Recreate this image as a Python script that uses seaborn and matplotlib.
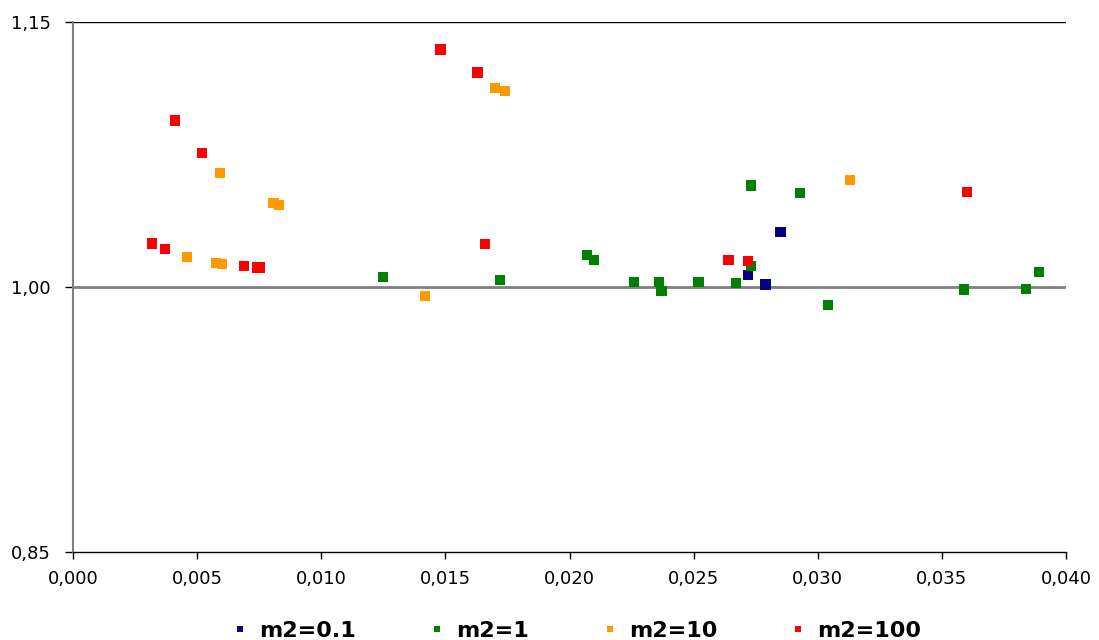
import matplotlib
matplotlib.use("Agg")
import matplotlib.pyplot as plt
import seaborn as sns
import pandas as pd
from matplotlib.ticker import FuncFormatter, FixedLocator
from matplotlib.lines import Line2D

# ---- data ----
series_names = ["m2=0.1", "m2=1", "m2=10", "m2=100"]
colors = ["#000080", "#008000", "#FF9900", "#FF0000"]

x_m01 = [0.0272, 0.02789, 0.0285]
y_m01 = [1.0068, 1.0015, 1.0313]

x_m1 = [0.01249, 0.0172, 0.0207, 0.0210, 0.0226, 0.0236, 0.0237, 0.0252,
        0.0267, 0.0273, 0.0273, 0.02928, 0.0304, 0.0359, 0.0384, 0.0389]
y_m1 = [1.0055, 1.0040, 1.0183, 1.0153, 1.0030, 1.0030, 0.9979, 1.0028,
        1.0024, 1.0117, 1.0574, 1.0532, 0.9900, 0.9985, 0.9987, 1.0083]

x_m10 = [0.00459, 0.00577, 0.0060, 0.00591, 0.00808, 0.0083, 0.01419,
         0.0170, 0.0174, 0.0313]
y_m10 = [1.0168, 1.0134, 1.0130, 1.0645, 1.0477, 1.0464, 0.9951,
         1.1125, 1.1108, 1.0604]

x_m100 = [0.003195, 0.003693, 0.004096, 0.005197, 0.00689, 0.0074, 0.00753,
          0.0148, 0.0163, 0.0166, 0.02641, 0.0272, 0.0360]
y_m100 = [1.0247, 1.0217, 1.0943, 1.0758, 1.0119, 1.0111, 1.0111,
          1.1345, 1.1215, 1.0242, 1.0153, 1.0149, 1.0536]

x_ticks = [0.000, 0.005, 0.010, 0.015, 0.020, 0.025, 0.030, 0.035, 0.040]
y_ticks = [0.85, 1.00, 1.15]

frames = []
for name, xs, ys in zip(series_names,
                        [x_m01, x_m1, x_m10, x_m100],
                        [y_m01, y_m1, y_m10, y_m100]):
    frames.append(pd.DataFrame({"x": xs, "y": ys, "series": name}))
df = pd.concat(frames, ignore_index=True)

sns.set_theme(style="white")
plt.rcParams["font.family"] = ["DejaVu Sans"]
plt.rcParams["text.color"] = "black"
plt.rcParams["xtick.color"] = "black"
plt.rcParams["ytick.color"] = "black"

fig = plt.figure(figsize=(10.99, 6.40), dpi=100)
ax = fig.add_axes([73 / 1099, 1 - 552 / 640, (1066 - 73) / 1099, (552 - 22) / 640])

sns.scatterplot(data=df, x="x", y="y", hue="series", hue_order=series_names,
                palette=colors, marker="s", s=55, linewidth=0, ax=ax,
                legend=False, zorder=3)

ax.set_xlim(0, 0.040)
ax.set_ylim(0.85, 1.15)
ax.xaxis.set_major_locator(FixedLocator(x_ticks))
ax.yaxis.set_major_locator(FixedLocator(y_ticks))
ax.xaxis.set_major_formatter(FuncFormatter(lambda v, p: f"{v:.3f}".replace(".", ",")))
ax.yaxis.set_major_formatter(FuncFormatter(lambda v, p: f"{v:.2f}".replace(".", ",")))
ax.set_xlabel("")
ax.set_ylabel("")

# gridlines
ax.axhline(1.15, color="black", lw=1.0, zorder=1)
ax.axhline(1.00, color="#808080", lw=2.0, zorder=1)

for s in ["top", "right"]:
    ax.spines[s].set_visible(False)
ax.spines["left"].set_color("#808080")
ax.spines["left"].set_linewidth(1.5)
ax.spines["bottom"].set_color("black")
ax.spines["bottom"].set_linewidth(1.0)

ax.tick_params(axis="x", direction="out", length=5, width=1, color="black",
               labelcolor="black", labelsize=13, pad=8, bottom=True)
ax.tick_params(axis="y", direction="out", length=6, width=1, color="black",
               labelcolor="black", labelsize=13, pad=10, left=True)

handles = [Line2D([], [], marker="s", linestyle="none", markersize=5,
                  markerfacecolor=c, markeredgewidth=0) for c in colors]
leg = fig.legend(handles, series_names, loc="center", ncol=4,
                 bbox_to_anchor=(578 / 1099, 1 - 631 / 640),
                 frameon=False, prop={"weight": "bold", "size": 16},
                 handlelength=0.5, handletextpad=0.6, columnspacing=3.4,
                 borderaxespad=0, borderpad=0, labelcolor="black")

fig.savefig("out.png", dpi=100)
